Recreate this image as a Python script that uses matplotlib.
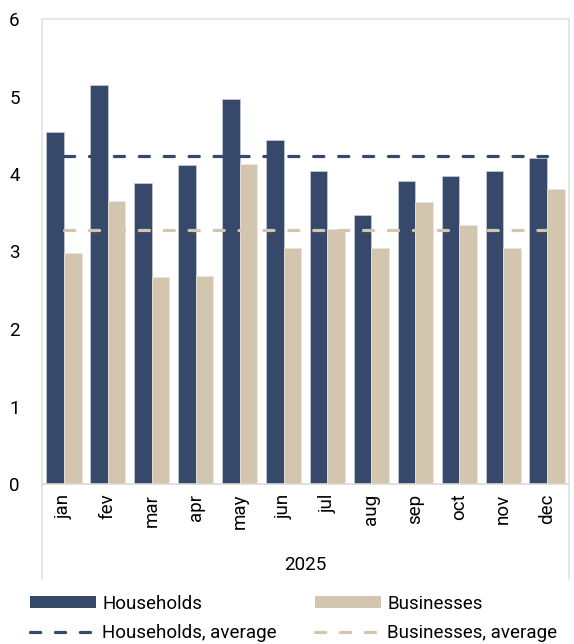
import numpy as np
import matplotlib
matplotlib.use("Agg")
import matplotlib.pyplot as plt
from matplotlib.lines import Line2D
from matplotlib.patches import Patch

plt.rcParams['font.family'] = ['Roboto', 'DejaVu Sans']

months = ["jan", "fev", "mar", "apr", "may", "jun", "jul", "aug", "sep", "oct", "nov", "dec"]
households = [4.54, 5.15, 3.89, 4.12, 4.97, 4.44, 4.04, 3.47, 3.91, 3.97, 4.04, 4.21]
businesses = [2.98, 3.65, 2.67, 2.68, 4.13, 3.05, 3.29, 3.04, 3.64, 3.34, 3.04, 3.81]
households_avg = 4.23
businesses_avg = 3.28
year_label = "2025"

c_hh = "#36496b"
c_bs = "#d3c5ae"
c_frame = "#e3e3e3"
fs = 13.5

fig = plt.figure(figsize=(5.74, 6.44), dpi=100)
ax = fig.add_axes([42/574, 1-484/644, 527/574, 465/644])

x = np.arange(len(months))
w = 0.4
ax.bar(x - w/2, households, w, color=c_hh, edgecolor="#c9cedb", linewidth=0.5, zorder=2)
ax.bar(x + w/2, businesses, w, color=c_bs, edgecolor="#ece6dc", linewidth=0.5, zorder=2)

# average lines, from first to last category centre
ax.plot([x[0], x[-1]], [households_avg]*2, color=c_hh, lw=2.3,
        dashes=(3.2, 4.6), dash_capstyle="round", zorder=3)
ax.plot([x[0], x[-1]], [businesses_avg]*2, color=c_bs, lw=2.3,
        dashes=(3.2, 4.6), dash_capstyle="round", zorder=3)

ax.set_xlim(-0.5, len(months) - 0.5)
ax.set_ylim(0, 6)
ax.set_yticks(range(0, 7))
ax.set_xticks(x)
ax.set_xticklabels(months, rotation=90)
ax.tick_params(axis="both", length=0, labelsize=fs, colors="black")
ax.tick_params(axis="y", pad=16)
ax.tick_params(axis="x", pad=7)

for s in ["left", "top", "right"]:
    ax.spines[s].set_color(c_frame)
    ax.spines[s].set_linewidth(1.2)
ax.spines["bottom"].set_color("#d9d9d9")
ax.spines["bottom"].set_linewidth(1.2)

# category area box below the axis
ext = (579 - 484) / 465
for xa in (0, 1):
    ax.add_line(Line2D([xa, xa], [0, -ext], transform=ax.transAxes,
                       color=c_frame, lw=1.2, clip_on=False))

ax.text(0.5, -(565 - 484) / 465, year_label, transform=ax.transAxes,
        ha="center", va="center", fontsize=fs)

h1 = Patch(facecolor=c_hh, edgecolor="none", label="Households")
h2 = Line2D([], [], color=c_hh, lw=2.3, dashes=(3.2, 4.6), dash_capstyle="round",
            label="Households, average")
b1 = Patch(facecolor=c_bs, edgecolor="none", label="Businesses")
b2 = Line2D([], [], color=c_bs, lw=2.3, dashes=(3.2, 4.6), dash_capstyle="round",
            label="Businesses, average")

kw = dict(frameon=False, fontsize=fs, handlelength=3.5, handleheight=0.6,
          handletextpad=0.35, labelspacing=0.6, borderpad=0, borderaxespad=0,
          loc="upper left")
fig.legend(handles=[h1, h2], bbox_to_anchor=(30/574, 1-595/644), **kw)
fig.legend(handles=[b1, b2], bbox_to_anchor=(315/574, 1-595/644), **kw)

fig.savefig("out.png", dpi=100)
